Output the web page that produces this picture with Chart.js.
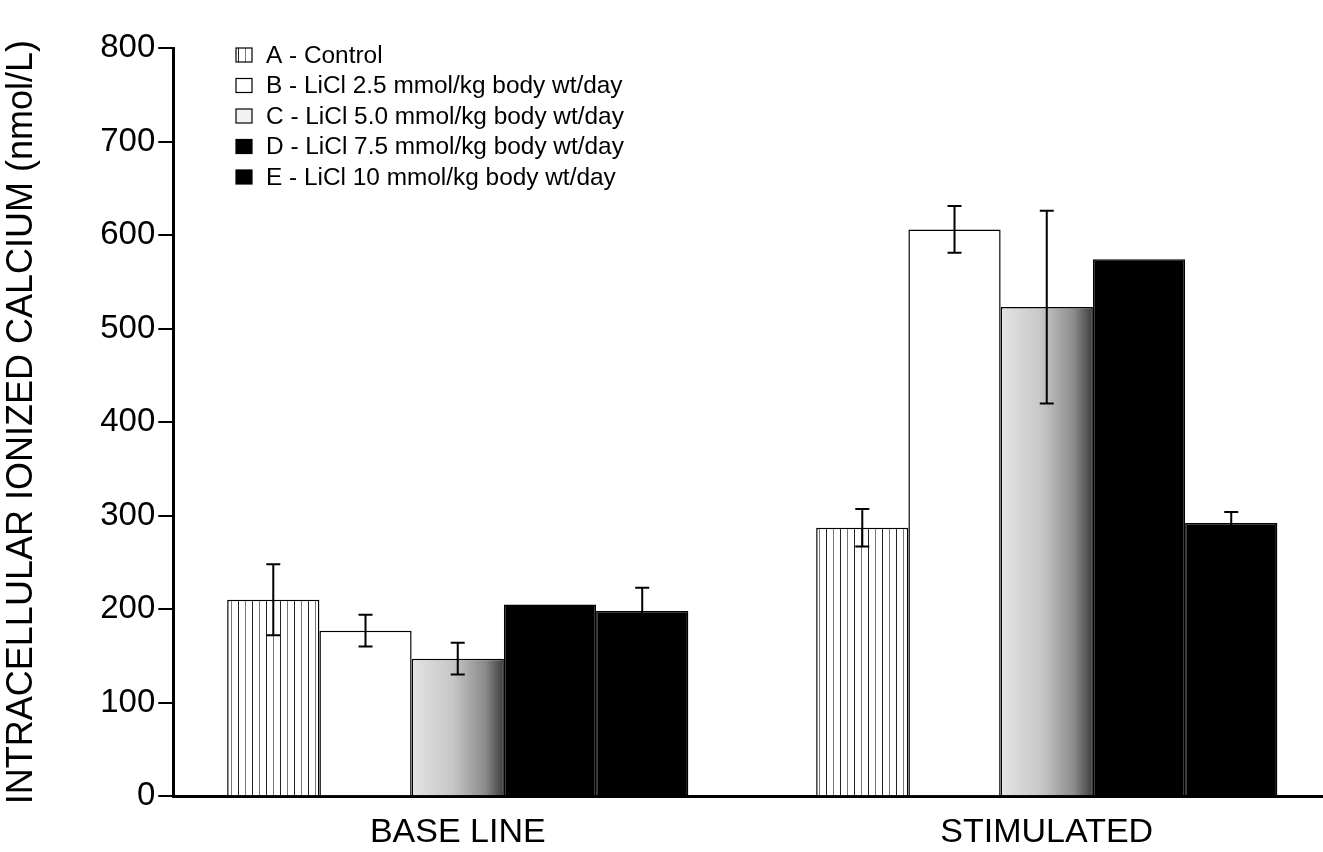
<!DOCTYPE html>
<html>
<head>
<meta charset="utf-8">
<script src="https://cdn.jsdelivr.net/npm/chart.js@4.4.1/dist/chart.umd.min.js"></script>
<style>
  html, body { margin: 0; padding: 0; background: #fff; }
  #wrap { width: 1323px; height: 852px; position: relative; }
</style>
</head>
<body>
<div id="wrap"><canvas id="calciumChart"></canvas></div>
<script>
// categories
var groups = ['BASE LINE', 'STIMULATED'];
var seriesNames = [
  'A - Control',
  'B - LiCl 2.5 mmol/kg body wt/day',
  'C - LiCl 5.0 mmol/kg body wt/day',
  'D - LiCl 7.5 mmol/kg body wt/day',
  'E - LiCl 10 mmol/kg body wt/day'
];
// means (nmol/L), one value per group
var controlVals = [210, 287];
var li25Vals = [177, 606];
var li50Vals = [147, 523];
var li75Vals = [205, 574];
var li10Vals = [198, 292];
// error bars (+/-)
var controlErr = [38, 20];
var li25Err = [17, 25];
var li50Err = [17, 103];
var li75Err = [0, 0];
var li10Err = [25, 12];
var yTicks = [0, 100, 200, 300, 400, 500, 600, 700, 800];

var FONT = "'Liberation Sans', Arial, Helvetica, sans-serif";
var catPct = 0.783;

function hatchPattern() {
  var c = document.createElement('canvas');
  c.width = 14; c.height = 4;
  var g = c.getContext('2d');
  g.fillStyle = '#fff';
  g.fillRect(0, 0, 14, 4);
  g.fillStyle = '#222';
  g.fillRect(0, 0, 1, 4);
  g.fillStyle = '#777';
  g.fillRect(7, 0, 1, 4);
  return g.createPattern(c, 'repeat');
}
var hatch = hatchPattern();

// grey shading that darkens towards the right edge of each C bar
function shadedFill(ctx) {
  var chart = ctx.chart;
  var xs = chart.scales.x;
  if (!xs || !xs.width || ctx.dataIndex === undefined) return '#bbb';
  var center = xs.getPixelForValue(ctx.dataIndex);
  var step = xs.getPixelForValue(1) - xs.getPixelForValue(0);
  var gw = step * catPct;
  var bw = gw / seriesNames.length;
  var left = center - gw / 2 + ctx.datasetIndex * bw;
  var grad = chart.ctx.createLinearGradient(left, 0, left + bw, 0);
  grad.addColorStop(0, '#e4e4e4');
  grad.addColorStop(0.45, '#c6c6c6');
  grad.addColorStop(0.8, '#8a8a8a');
  grad.addColorStop(1, '#3c3c3c');
  return grad;
}

var errs = [controlErr, li25Err, li50Err, li75Err, li10Err];
var legendFills = [hatch, '#fff', '#f2f2f2', '#000', '#000'];

var errorBars = {
  id: 'errorBars',
  afterDatasetsDraw: function(chart) {
    var ctx = chart.ctx;
    var ys = chart.scales.y;
    ctx.save();
    ctx.strokeStyle = '#000';
    ctx.lineWidth = 2;
    chart.data.datasets.forEach(function(ds, di) {
      var meta = chart.getDatasetMeta(di);
      meta.data.forEach(function(bar, i) {
        var e = errs[di][i];
        if (!e) return;
        var v = ds.data[i];
        var top = ys.getPixelForValue(v + e);
        var bot = ys.getPixelForValue(v - e);
        ctx.beginPath();
        ctx.moveTo(bar.x, top); ctx.lineTo(bar.x, bot);
        ctx.moveTo(bar.x - 7, top); ctx.lineTo(bar.x + 7, top);
        ctx.moveTo(bar.x - 7, bot); ctx.lineTo(bar.x + 7, bot);
        ctx.stroke();
      });
    });
    ctx.restore();
  }
};

var boxLegend = {
  id: 'boxLegend',
  afterDraw: function(chart) {
    var ctx = chart.ctx;
    ctx.save();
    ctx.font = '24.4px ' + FONT;
    ctx.textBaseline = 'middle';
    seriesNames.forEach(function(name, i) {
      var y = 55 + i * 30.5;
      ctx.fillStyle = legendFills[i];
      ctx.fillRect(236, y - 7, 16, 14);
      ctx.strokeStyle = '#000';
      ctx.lineWidth = 1.2;
      ctx.strokeRect(236, y - 7, 16, 14);
      ctx.fillStyle = '#000';
      ctx.fillText(name, 266, y + 1);
    });
    ctx.restore();
  }
};

var ctx = document.getElementById('calciumChart');
var myChart = new Chart(ctx, {
  type: 'bar',
  data: {
    labels: groups,
    datasets: [
      { label: seriesNames[0], data: controlVals, backgroundColor: hatch },
      { label: seriesNames[1], data: li25Vals, backgroundColor: '#fff' },
      { label: seriesNames[2], data: li50Vals, backgroundColor: shadedFill },
      { label: seriesNames[3], data: li75Vals, backgroundColor: '#000' },
      { label: seriesNames[4], data: li10Vals, backgroundColor: '#000' }
    ]
  },
  options: {
    responsive: true,
    maintainAspectRatio: false,
    animation: false,
    datasets: {
      bar: {
        borderColor: '#000',
        borderWidth: 1.5,
        barPercentage: 1,
        categoryPercentage: catPct
      }
    },
    layout: {
      padding: { left: 0, top: 48, right: 0, bottom: -17 }
    },
    plugins: {
      legend: { display: false },
      tooltip: { enabled: false }
    },
    scales: {
      x: {
        // groups sit a little right of the usual half-step offset
        afterBuildTicks: function(axis) {
          if (axis._valueRange !== undefined) {
            axis._startValue = -0.483;
            axis._valueRange = 1.952;
          }
        },
        grid: { display: false, drawTicks: false },
        border: { display: true, color: '#000', width: 3 },
        ticks: {
          color: '#000',
          padding: 16,
          font: { family: FONT, size: 34 }
        }
      },
      y: {
        min: 0,
        max: 800,
        afterBuildTicks: function(axis) {
          axis.ticks = yTicks.map(function(v) { return { value: v }; });
        },
        grid: {
          drawOnChartArea: false,
          color: '#000',
          lineWidth: 2,
          tickLength: 15
        },
        border: { display: true, color: '#000', width: 3 },
        ticks: {
          color: '#000',
          padding: 3,
          font: { family: FONT, size: 33 }
        },
        title: {
          display: true,
          text: 'INTRACELLULAR IONIZED CALCIUM (nmol/L)',
          color: '#000',
          font: { family: FONT, size: 36 },
          padding: { top: 0, bottom: 54 }
        }
      }
    }
  },
  plugins: [errorBars, boxLegend]
});
</script>
</body>
</html>
